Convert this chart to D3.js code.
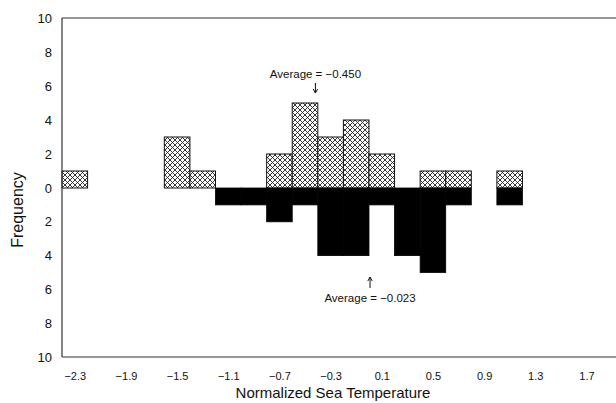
<!DOCTYPE html>
<html>
<head>
<meta charset="utf-8">
<script src="https://cdn.jsdelivr.net/npm/d3@7"></script>
<style>
  html, body { margin: 0; padding: 0; background: #fff; }
  svg { display: block; }
  text { font-family: "Liberation Sans", Arial, sans-serif; fill: #111; }
</style>
</head>
<body>
<svg id="chart" width="616" height="403"></svg>
<script>
// Bin centres (bin width 0.2) and counts for the two distributions
const binCenters = [-2.3, -2.1, -1.9, -1.7, -1.5, -1.3, -1.1, -0.9, -0.7, -0.5, -0.3, -0.1, 0.1, 0.3, 0.5, 0.7, 0.9, 1.1];
const upperCounts = [1, 0, 0, 0, 3, 1, 0, 0, 2, 5, 3, 4, 2, 0, 1, 1, 0, 1];
const lowerCounts = [0, 0, 0, 0, 0, 0, 1, 1, 2, 1, 4, 4, 1, 4, 5, 1, 0, 1];
const binWidth = 0.2;

const xTicks = [-2.3, -1.9, -1.5, -1.1, -0.7, -0.3, 0.1, 0.5, 0.9, 1.3, 1.7];
const yTicks = [0, 2, 4, 6, 8, 10];

const upperAverage = -0.450;
const lowerAverage = -0.023;

const svg = d3.select("#chart");

const x = d3.scaleLinear().domain([-2.4, 1.9]).range([62, 612]);
const yUp = d3.scaleLinear().domain([0, 10]).range([188, 18]);
const yDown = d3.scaleLinear().domain([0, 10]).range([188, 357]);

// Cross-hatch fill for the upper histogram
const defs = svg.append("defs");
const pat = defs.append("pattern")
  .attr("id", "xhatch")
  .attr("patternUnits", "userSpaceOnUse")
  .attr("width", 5).attr("height", 5);
pat.append("rect").attr("width", 5).attr("height", 5).attr("fill", "#fff");
pat.append("path").attr("d", "M-1,1 L1,-1 M0,5 L5,0 M4,6 L6,4")
  .attr("stroke", "#222").attr("stroke-width", 0.9);
pat.append("path").attr("d", "M-1,4 L1,6 M0,0 L5,5 M4,-1 L6,1")
  .attr("stroke", "#222").attr("stroke-width", 0.9);

const bins = binCenters.map((c, i) => ({ c, up: upperCounts[i], down: lowerCounts[i] }));

// Upper histogram (hatched)
svg.append("g").selectAll("rect")
  .data(bins.filter(d => d.up > 0))
  .join("rect")
  .attr("x", d => x(d.c - binWidth / 2))
  .attr("width", d => x(d.c + binWidth / 2) - x(d.c - binWidth / 2))
  .attr("y", d => yUp(d.up))
  .attr("height", d => yUp(0) - yUp(d.up))
  .attr("fill", "url(#xhatch)")
  .attr("stroke", "#111")
  .attr("stroke-width", 1);

// Lower histogram (solid black)
svg.append("g").selectAll("rect")
  .data(bins.filter(d => d.down > 0))
  .join("rect")
  .attr("x", d => x(d.c - binWidth / 2))
  .attr("width", d => x(d.c + binWidth / 2) - x(d.c - binWidth / 2))
  .attr("y", yDown(0))
  .attr("height", d => yDown(d.down) - yDown(0))
  .attr("fill", "#000")
  .attr("stroke", "#000")
  .attr("stroke-width", 0.8);

// Frame: top, left and bottom edges
const frame = svg.append("g").attr("stroke", "#333").attr("stroke-width", 1.2).attr("fill", "none");
frame.append("line").attr("x1", 62).attr("x2", 616).attr("y1", 18).attr("y2", 18);
frame.append("line").attr("x1", 62).attr("x2", 62).attr("y1", 18).attr("y2", 357);
frame.append("line").attr("x1", 62).attr("x2", 616).attr("y1", 357).attr("y2", 357);

// Y axes (count going up and going down from the shared baseline)
const fmtInt = d3.format("d");
const yAxisUp = d3.axisLeft(yUp).tickValues(yTicks).tickSize(0).tickPadding(10).tickFormat(fmtInt);
const yAxisDown = d3.axisLeft(yDown).tickValues(yTicks.filter(v => v > 0)).tickSize(0).tickPadding(10).tickFormat(fmtInt);
[yAxisUp, yAxisDown].forEach(ax => {
  const g = svg.append("g").attr("transform", "translate(62,0)").call(ax);
  g.select(".domain").remove();
  g.selectAll("text").attr("font-size", 13).attr("font-family", "Liberation Sans, Arial, sans-serif").attr("fill", "#111");
});

// X axis
const xAxis = d3.axisBottom(x).tickValues(xTicks).tickSize(0).tickPadding(15).tickFormat(d3.format(".1f"));
const gx = svg.append("g").attr("transform", "translate(0,357)").call(xAxis);
gx.select(".domain").remove();
gx.selectAll("text").attr("font-size", 11).attr("font-family", "Liberation Sans, Arial, sans-serif").attr("fill", "#111");

// Axis titles
svg.append("text")
  .attr("transform", "translate(23,210) rotate(-90)")
  .attr("text-anchor", "middle")
  .attr("font-size", 16)
  .text("Frequency");
svg.append("text")
  .attr("x", 333).attr("y", 398)
  .attr("text-anchor", "middle")
  .attr("font-size", 15)
  .text("Normalized Sea Temperature");

// Average annotations with small arrows
function arrow(xPos, yFrom, yTo) {
  const dir = yTo > yFrom ? 1 : -1;
  svg.append("line")
    .attr("x1", xPos).attr("x2", xPos).attr("y1", yFrom).attr("y2", yTo)
    .attr("stroke", "#111").attr("stroke-width", 1);
  svg.append("path")
    .attr("d", `M${xPos - 2.2},${yTo - dir * 4} L${xPos},${yTo} L${xPos + 2.2},${yTo - dir * 4}`)
    .attr("fill", "none").attr("stroke", "#111").attr("stroke-width", 1);
}

const upX = x(upperAverage) + 4;
svg.append("text")
  .attr("x", upX).attr("y", 78)
  .attr("text-anchor", "middle").attr("font-size", 11.5)
  .text("Average = \u22120.450");
arrow(upX, 83, 93);

const downX = x(lowerAverage) + 4;
arrow(downX, 288, 277);
svg.append("text")
  .attr("x", downX).attr("y", 302)
  .attr("text-anchor", "middle").attr("font-size", 11.5)
  .text("Average = \u22120.023");
</script>
</body>
</html>
